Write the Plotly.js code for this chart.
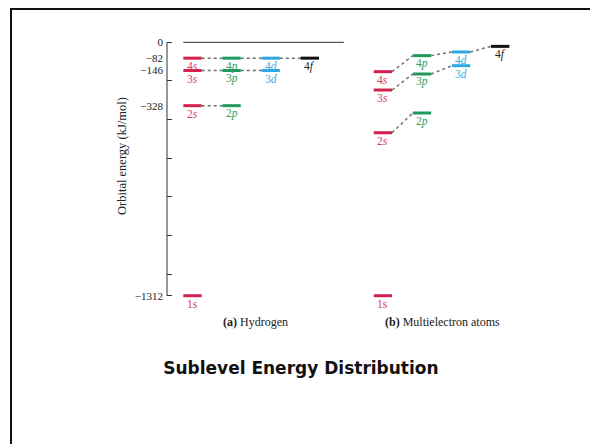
<!DOCTYPE html>
<html>
<head>
<meta charset="utf-8">
<script src="https://cdn.plot.ly/plotly-3.0.1.min.js"></script>
<style>
  html, body { margin: 0; padding: 0; background: #fff; }
  #wrap { position: relative; width: 590px; height: 444px; overflow: hidden; }
  #chart { position: absolute; left: 0; top: 0; width: 590px; height: 444px; }
  #frame { position: absolute; left: 10px; top: 8px; width: 600px; height: 460px;
           border-top: 2px solid #111; border-left: 2px solid #111; pointer-events: none; }
</style>
</head>
<body>
<div id="wrap">
  <div id="chart"></div>
  <div id="frame"></div>
</div>
<script>
// ---- data ----
const orbitals = ['1s', '2s', '2p', '3s', '3p', '3d', '4s', '4p', '4d', '4f'];
const hydrogenEnergy = [-1312, -328, -328, -146, -146, -146, -82, -82, -82, -82];
const multiEnergy = [-1312, -468, -366, -247, -164, -121, -152, -69, -50, -21];
const energyTickValues = [0, -82, -146, -328, -1312];
const energyTickLabels = ['0', '\u221282', '\u2212146', '\u2212328', '\u22121312'];
const minorTickValues = [0, -200, -400, -600, -800, -1000, -1200, -1312];
const panelNames = ['<b>(a)</b> Hydrogen', '<b>(b)</b> Multielectron atoms'];
const subshellTypes = ['s', 'p', 'd', 'f'];
const subshellColors = ['#d4204d', '#1f9a5c', '#2ea8e2', '#111111'];
const labelColors = ['#d63a63', '#2f9e68', '#3aa9e0', '#222222'];

// ---- layout helpers ----
const panelOffsets = [0, 4.87];
const halfWidth = 0.235;
const serif = 'Liberation Serif, Times New Roman, serif';

const traces = [];
const annotations = [];
const panels = [hydrogenEnergy, multiEnergy];

function labelFor(name) {
  if (name === '1s') return name;
  return name[0] + '<i>' + name.slice(1) + '</i>';
}

panels.forEach((energies, p) => {
  const xs = orbitals.map(o => panelOffsets[p] + subshellTypes.indexOf(o[1]));
  // connectors (within same shell n, consecutive subshells)
  for (let i = 0; i < orbitals.length - 1; i++) {
    if (orbitals[i][0] === orbitals[i + 1][0]) {
      traces.push({
        x: [xs[i] + halfWidth, xs[i + 1] - halfWidth],
        y: [energies[i], energies[i + 1]],
        mode: 'lines', hoverinfo: 'skip', showlegend: false,
        line: { color: '#6f6f6f', width: 1.5, dash: 'dot' }
      });
    }
  }
  // level bars + labels
  orbitals.forEach((o, i) => {
    const t = subshellTypes.indexOf(o[1]);
    traces.push({
      x: [xs[i] - halfWidth, xs[i] + halfWidth],
      y: [energies[i], energies[i]],
      mode: 'lines', hoverinfo: 'skip', showlegend: false,
      line: { color: subshellColors[t], width: 3 }
    });
    annotations.push({
      text: labelFor(o), xref: 'x', yref: 'y', x: xs[i], y: energies[i],
      xanchor: 'center', yanchor: 'middle', yshift: -8, showarrow: false,
      font: { family: serif, size: 11.5, color: labelColors[t] }
    });
  });
});

// dummy trace on yaxis2 so its labels render
traces.push({ x: [0], y: [0], yaxis: 'y2', mode: 'markers', marker: { opacity: 0 }, hoverinfo: 'skip', showlegend: false });

annotations.push(
  { text: 'Orbital energy (kJ/mol)', textangle: -90, xref: 'paper', yref: 'paper',
    x: -0.129, y: 0.554, xanchor: 'center', yanchor: 'middle', showarrow: false,
    font: { family: serif, size: 12.5, color: '#222' } },
  { text: panelNames[0], xref: 'x', yref: 'paper', x: 1.6, y: -0.089, xanchor: 'center', yanchor: 'middle',
    showarrow: false, font: { family: serif, size: 12, color: '#222' } },
  { text: panelNames[1], xref: 'x', yref: 'paper', x: 6.4, y: -0.089, xanchor: 'center', yanchor: 'middle',
    showarrow: false, font: { family: serif, size: 12, color: '#222' } }
);

const yRange = [-1329, 12];
const layout = {
  width: 590, height: 444,
  margin: { l: 167, r: 70, t: 40, b: 145 },
  paper_bgcolor: '#ffffff', plot_bgcolor: '#ffffff',
  showlegend: false,
  title: {
    text: '<b>Sublevel Energy Distribution</b>',
    font: { family: 'DejaVu Sans, Verdana, sans-serif', size: 17, color: '#111' },
    x: 0.51, xanchor: 'center', xref: 'container',
    y: 1 - 368 / 444, yanchor: 'middle', yref: 'container'
  },
  xaxis: { range: [-0.652, 8.376], visible: false, fixedrange: true },
  yaxis: {
    range: yRange, showgrid: false, zeroline: false, showline: false,
    tickmode: 'array', tickvals: minorTickValues, showticklabels: false,
    ticks: 'inside', ticklen: 5, tickwidth: 1, tickcolor: '#333', fixedrange: true
  },
  yaxis2: {
    range: yRange, overlaying: 'y', side: 'left', showgrid: false, zeroline: false, showline: false,
    tickmode: 'array', tickvals: energyTickValues, ticktext: energyTickLabels, ticks: '',
    ticklabelstandoff: 3,
    tickfont: { family: serif, size: 11, color: '#222' }, fixedrange: true
  },
  shapes: [
    { type: 'line', xref: 'paper', yref: 'y', x0: 0, x1: 0, y0: energyTickValues[0], y1: energyTickValues[energyTickValues.length - 1],
      line: { color: '#333', width: 1 } },
    { type: 'line', xref: 'x', yref: 'y', x0: -halfWidth, x1: 3.87, y0: energyTickValues[0], y1: energyTickValues[0],
      line: { color: '#555', width: 1.2 } }
  ],
  annotations: annotations
};

Plotly.newPlot('chart', traces, layout, { displayModeBar: false, staticPlot: true });
</script>
</body>
</html>
